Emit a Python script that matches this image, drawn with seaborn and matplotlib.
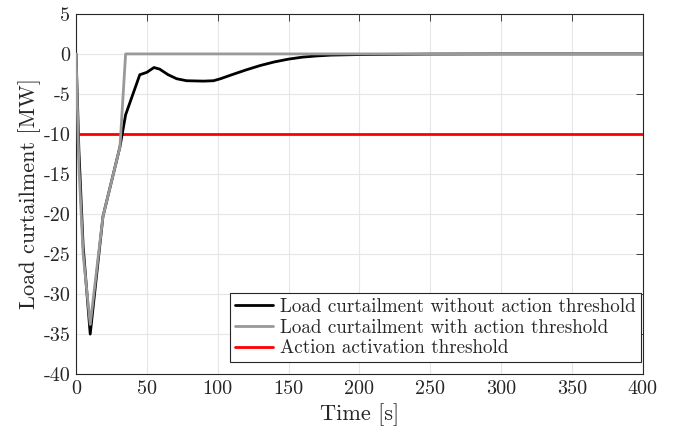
import numpy as np
import pandas as pd
import seaborn as sns
import matplotlib.pyplot as plt

# --- DATA ---
t_no_thr = [0, 2, 5, 10, 19, 31, 35, 45, 50, 55, 59, 65, 71, 78, 90, 97, 102,
            110, 120, 130, 140, 150, 160, 170, 180, 200, 250, 300, 400]
lc_no_thr = [0, -12, -24, -35, -20.3, -11.6, -7.6, -2.6, -2.3, -1.7, -1.9, -2.6,
             -3.1, -3.35, -3.4, -3.35, -3.1, -2.6, -2.0, -1.45, -1.0, -0.65,
             -0.4, -0.25, -0.15, -0.08, -0.02, 0, 0]
t_thr = [0, 2, 5, 10, 19, 31, 35, 400]
lc_thr = [0, -14, -25, -33.8, -20.3, -11.6, 0, 0]
threshold = -10
x_range = [0, 400]

labels = ["Load curtailment without action threshold",
          "Load curtailment with action threshold",
          "Action activation threshold"]

sns.set_theme(style="whitegrid")
plt.rcParams['font.family'] = 'serif'
plt.rcParams['font.serif'] = ['cmr10', 'DejaVu Serif']
plt.rcParams['axes.unicode_minus'] = False
plt.rcParams['mathtext.fontset'] = 'cm'

fig = plt.figure(figsize=(6.73, 4.34), dpi=100)
ax = fig.add_axes([0.113, 0.138, 0.842, 0.830])

df1 = pd.DataFrame({"t": t_no_thr, "y": lc_no_thr})
df2 = pd.DataFrame({"t": t_thr, "y": lc_thr})
df3 = pd.DataFrame({"t": x_range, "y": [threshold, threshold]})

sns.lineplot(data=df1, x="t", y="y", ax=ax, color="black", lw=2, label=labels[0], zorder=3)
sns.lineplot(data=df2, x="t", y="y", ax=ax, color="#999999", lw=2, label=labels[1], zorder=4)
sns.lineplot(data=df3, x="t", y="y", ax=ax, color="#ff0000", lw=2, label=labels[2], zorder=2)

ax.set_xlim(0, 400)
ax.set_ylim(-40, 5)
ax.set_xticks(np.arange(0, 401, 50))
ax.set_yticks(np.arange(-40, 6, 5))
ax.set_xlabel("Time [s]", fontsize=16, labelpad=4)
ax.set_ylabel("Load curtailment [MW]", fontsize=16, labelpad=2)

ax.set_facecolor("white")
ax.grid(True, color="#e6e6e6", lw=0.8)
for s in ax.spines.values():
    s.set_color("#262626")
    s.set_linewidth(0.8)
ax.tick_params(direction="in", length=5, width=0.6, color="#262626",
               labelsize=14.5, top=True, right=True, pad=4, labelcolor="#262626")

leg = ax.legend(loc="lower right", bbox_to_anchor=(0.9965, 0.033), fontsize=13.7,
                frameon=True, fancybox=False, edgecolor="#262626", framealpha=1,
                borderpad=0.25, labelspacing=0.15, handlelength=2.0,
                handletextpad=0.4, borderaxespad=0)
leg.get_frame().set_linewidth(0.8)

fig.savefig("out.png", dpi=100, facecolor="white")
